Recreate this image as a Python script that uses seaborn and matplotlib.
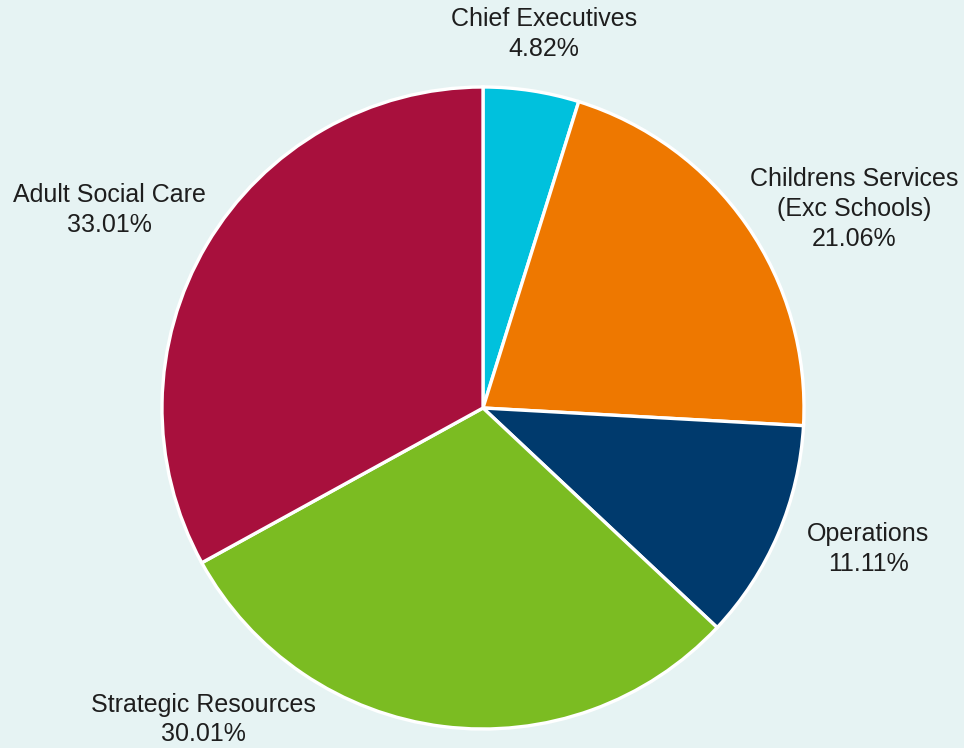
import matplotlib
matplotlib.use("Agg")
import matplotlib.pyplot as plt
import seaborn as sns

categories = ["Chief Executives", "Childrens Services\n(Exc Schools)", "Operations",
              "Strategic Resources", "Adult Social Care"]
values = [4.82, 21.06, 11.11, 30.01, 33.01]
colors = ["#00c1dd", "#ee7800", "#003a6d", "#7bbc22", "#a8103d"]

# label anchor positions (in units of the pie radius, relative to centre)
label_pos = [(0.19, 1.165), (1.155, 0.62), (1.20, -0.44), (-0.87, -0.97), (-1.165, 0.617)]

sns.set_theme(style="white")
plt.rcParams["font.family"] = ["Liberation Sans", "DejaVu Sans"]

bg = "#e6f3f3"
fig = plt.figure(figsize=(9.64, 7.48), dpi=100, facecolor=bg)
cx, cy, r = 483, 408, 321
W, H = 964, 748
ax = fig.add_axes([(cx - r) / W, (H - cy - r) / H, 2 * r / W, 2 * r / H])
ax.set_facecolor(bg)

ax.pie(values, colors=colors, startangle=90, counterclock=False,
       wedgeprops=dict(edgecolor="white", linewidth=2.4), radius=1)
for cat, v, (x, y) in zip(categories, values, label_pos):
    ax.text(x, y, f"{cat}\n{v:.2f}%", ha="center", va="center", fontsize=18,
            color="#1e1e1e", linespacing=1.3)
ax.set_xlim(-1, 1)
ax.set_ylim(-1, 1)
ax.set_aspect("equal")
ax.axis("off")

fig.savefig("out.png", dpi=100, facecolor=bg)
